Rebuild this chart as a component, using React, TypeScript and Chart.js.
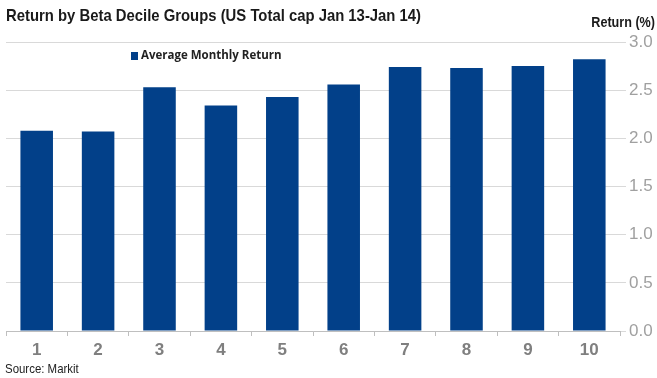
import React, { useEffect, useRef } from "react";
import { Chart, registerables } from "chart.js";

Chart.register(...registerables);

const categories = ["1", "2", "3", "4", "5", "6", "7", "8", "9", "10"];
const averageMonthlyReturn = [2.08, 2.07, 2.53, 2.34, 2.43, 2.56, 2.74, 2.73, 2.75, 2.82];
const seriesLabel = "Average Monthly Return";
const chartTitle = "Return by Beta Decile Groups (US Total cap Jan 13-Jan 14)";
const axisTitle = "Return (%)";
const sourceNote = "Source: Markit";

const FONT = "'Liberation Sans', Arial, sans-serif";
const BAR = "#024089";

function condensedText(ctx: any, text: string, x: number, y: number, sx: number, align: string) {
  ctx.save();
  ctx.translate(x, y);
  ctx.scale(sx, 1);
  ctx.textAlign = align;
  ctx.fillText(text, 0, 0);
  ctx.restore();
}

const textPlugin = {
  id: "texts",
  afterDraw(chart: any) {
    const ctx = chart.ctx;
    const area = chart.chartArea;
    ctx.save();
    ctx.textBaseline = "middle";
    ctx.fillStyle = "#1a1a1a";
    ctx.font = `bold 17px ${FONT}`;
    condensedText(ctx, chartTitle, 6, 16, 0.874, "left");
    ctx.font = `bold 14px ${FONT}`;
    condensedText(ctx, axisTitle, 655, 23, 0.9, "right");
    ctx.font = `13px ${FONT}`;
    ctx.fillStyle = "#222";
    condensedText(ctx, sourceNote, 5, 369, 0.88, "left");
    // legend
    const lx = area.left + 125;
    const ly = area.top + 14;
    ctx.fillStyle = BAR;
    ctx.fillRect(lx, ly - 4, 7, 8);
    ctx.fillStyle = "#222";
    ctx.font = `bold 11.5px 'Open Sans', 'Liberation Sans', sans-serif`;
    ctx.textAlign = "left";
    ctx.fillText(chart.data.datasets[0].label, lx + 10, ly);
    ctx.restore();
  },
};

export default function App() {
  const ref = useRef<HTMLCanvasElement | null>(null);
  useEffect(() => {
    if (!ref.current) return;
    const chart = new Chart(ref.current, {
      type: "bar",
      data: {
        labels: categories,
        datasets: [
          {
            label: seriesLabel,
            data: averageMonthlyReturn,
            backgroundColor: BAR,
            categoryPercentage: 1,
            barPercentage: 0.53,
          },
        ],
      },
      options: {
        animation: false,
        responsive: false,
        maintainAspectRatio: false,
        layout: { padding: { left: 6, right: 0, top: 42, bottom: 16 } },
        plugins: {
          legend: { display: false },
          tooltip: { enabled: false },
          title: { display: false },
        },
        scales: {
          x: {
            grid: {
              display: true,
              drawOnChartArea: false,
              offset: true,
              tickLength: 5,
              color: "#bfbfbf",
            },
            border: { display: true, color: "#bfbfbf" },
            ticks: {
              color: "#7f7f7f",
              font: { family: FONT, size: 17, weight: "bold" },
              padding: 4,
            },
            afterFit(scale: any) {
              scale.height = 31;
            },
          },
          y: {
            position: "right",
            min: 0,
            max: 3,
            ticks: {
              stepSize: 0.5,
              color: "#a0a0a0",
              font: { family: FONT, size: 17 },
              padding: 3,
              callback: (v: any) => Number(v).toFixed(1),
            },
            grid: { color: "#d9d9d9", tickLength: 6 },
            border: { display: false },
            afterFit(scale: any) {
              scale.width = 37;
            },
          },
        },
      },
      plugins: [textPlugin],
    });
    return () => chart.destroy();
  }, []);
  return (
    <div style={{ position: "fixed", left: 0, top: 0, width: 657, height: 378, background: "#fff" }}>
      <canvas ref={ref} width={657} height={378} style={{ display: "block" }} />
    </div>
  );
}
